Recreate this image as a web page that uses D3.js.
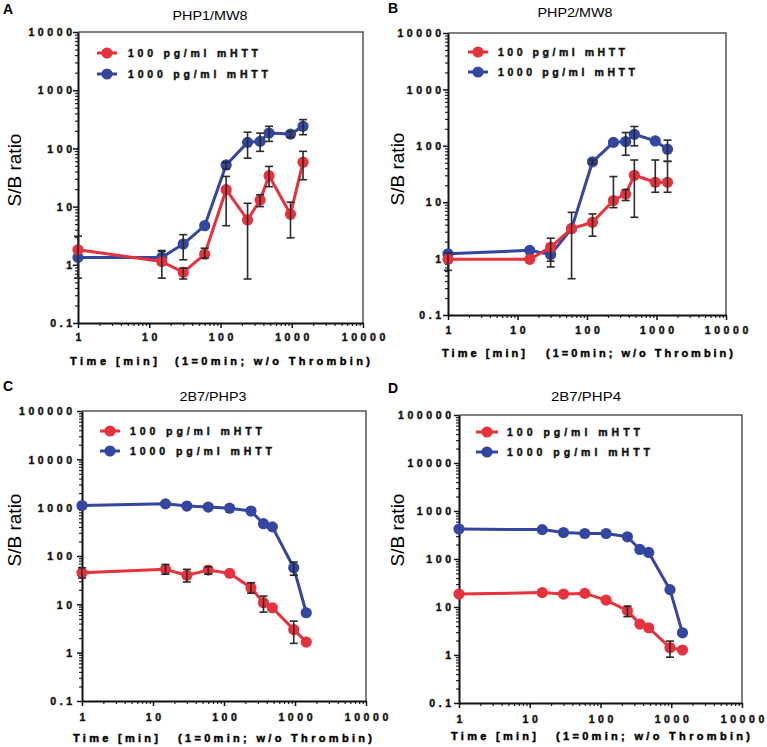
<!DOCTYPE html>
<html><head><meta charset="utf-8">
<script src="https://cdn.jsdelivr.net/npm/d3@7"></script>
<style>body{margin:0;background:#fff}svg{display:block}text{font-family:Arial,"Liberation Sans",sans-serif}</style>
</head><body><svg id="c" width="767" height="747"></svg>
<script>
// ---- data ----
const times = [1, 15, 30, 60, 120, 240, 360, 480, 960, 1440];
const seriesNames = ["100 pg/ml mHTT", "1000 pg/ml mHTT"];
const xTickLabels = ["1", "10", "100", "1000", "10000"];
const yTickLabelsAB = ["0.1", "1", "10", "100", "1000", "10000"];
const yTickLabelsCD = ["0.1", "1", "10", "100", "1000", "10000", "100000"];
const panelTitles = ["PHP1/MW8", "PHP2/MW8", "2B7/PHP3", "2B7/PHP4"];

const A_red    = [1.81, 1.14, 0.74, 1.52, 19.5, 5.9, 13, 34, 7.4, 58];
const A_red_hi = [3.1, 1.7, 0.88, 1.93, 33, 11.4, 16, 49, 11.9, 89];
const A_red_lo = [0.59, 0.59, 0.57, 1.3, 4.7, 0.57, 10, 22, 2.9, 29];
const A_blue    = [1.34, 1.34, 2.27, 4.7, 52, 127, 132, 184, 176, 240];
const A_blue_hi = [null, 1.76, 3.3, null, 58, 190, 183, 240, 195, 312];
const A_blue_lo = [null, 1.0, 1.22, null, 44, 68, 89, 132, 155, 172];

const B_red    = [0.97, 0.97, 1.6, 3.4, 4.4, 10.7, 14, 30, 22.6, 22.6];
const B_red_hi = [1.26, null, 2.3, 6.6, 6.2, 28.5, 16.7, 56, 56, 53];
const B_red_lo = [0.62, null, 0.71, 0.44, 2.5, 8, 10.7, 5.4, 15, 15];
const B_blue    = [1.22, 1.4, 1.18, 3.4, 52, 115, 119, 160, 122, 87];
const B_blue_hi = [null, null, 1.6, null, 56, null, 172, 220, null, 126];
const B_blue_lo = [null, null, 0.9, null, 48, null, 68, 100, null, 53];

const C_red    = [45, 53, 40, 51, 44, 22, 10.8, 8.5, 3.0, 1.66];
const C_red_hi = [57, 67, 53, 60, null, 28, 14.8, null, 4.5, null];
const C_red_lo = [35, 42, 29, 42, null, 17, 6.9, null, 1.56, null];
const C_blue    = [1110, 1200, 1080, 1030, 975, 850, 466, 400, 57, 6.7];
const C_blue_hi = [null, null, null, null, null, null, null, null, 75, null];
const C_blue_lo = [null, null, null, null, null, null, null, null, 40, null];

const D_red    = [18.6, 20, 18.6, 19.2, 13.9, 8.4, 4.4, 3.7, 1.42, 1.27];
const D_red_hi = [null, null, null, null, null, 10.4, null, null, 1.95, null];
const D_red_lo = [null, null, null, null, null, 6.3, null, null, 0.9, null];
const D_blue    = [420, 410, 356, 340, 340, 290, 158, 137, 23, 2.9];
const D_blue_hi = [null, null, null, null, null, null, null, null, null, null];
const D_blue_lo = [null, null, null, null, null, null, null, null, null, null];

// ---- layout ----
const RED = "#e5323c", BLUE = "#34469f", ERR = "#2a2a2a";
const panels = [
  {letter:"A", title:panelTitles[0], yt:yTickLabelsAB, L:78, R:363, T:32, B:323,
   red:[A_red,A_red_hi,A_red_lo], blue:[A_blue,A_blue_hi,A_blue_lo],
   lx:3, ly:14, tx:210, ty:20, tw:75, ylx:21, yly:170, ytr:72, xty:341, xtitleY:365,
   t1:[70,157], t2:[175,370], leg:{x1:97, x2:117, tx:128, y1:53, y2:74, w1:130, w2:140}},
  {letter:"B", title:panelTitles[1], yt:yTickLabelsAB, L:448, R:726, T:33, B:315,
   red:[B_red,B_red_hi,B_red_lo], blue:[B_blue,B_blue_hi,B_blue_lo],
   lx:388, ly:13, tx:575, ty:17, tw:75, ylx:404, yly:169, ytr:441, xty:334, xtitleY:357,
   t1:[442,525], t2:[546,733], leg:{x1:468, x2:488, tx:498, y1:52, y2:72, w1:127, w2:137}},
  {letter:"C", title:panelTitles[2], yt:yTickLabelsCD, L:82, R:366, T:411, B:701,
   red:[C_red,C_red_hi,C_red_lo], blue:[C_blue,C_blue_hi,C_blue_lo],
   lx:3, ly:391, tx:213, ty:401, tw:67, ylx:21, yly:530, ytr:72, xty:721, xtitleY:742,
   t1:[73,158], t2:[178,372], leg:{x1:100, x2:120, tx:130, y1:431, y2:451, w1:132, w2:142}},
  {letter:"D", title:panelTitles[3], yt:yTickLabelsCD, L:459, R:742, T:415, B:703,
   red:[D_red,D_red_hi,D_red_lo], blue:[D_blue,D_blue_hi,D_blue_lo],
   lx:388, ly:393, tx:586, ty:401, tw:70, ylx:404, yly:530, ytr:451, xty:723, xtitleY:740,
   t1:[451,536], t2:[556,750], leg:{x1:476, x2:498, tx:507, y1:432, y2:452, w1:133, w2:143}}
];

const svg = d3.select("#c");
const TICKFONT = "10.5px";
const heavy = sel => sel.attr("stroke","#111").attr("stroke-width",0.45).attr("paint-order","stroke");

panels.forEach(p => {
  const yVals = p.yt.map(Number);
  const xVals = xTickLabels.map(Number);
  const x = d3.scaleLog().domain([xVals[0], xVals[xVals.length-1]]).range([p.L, p.R]);
  const y = d3.scaleLog().domain([yVals[0], yVals[yVals.length-1]]).range([p.B, p.T]);
  const g = svg.append("g");

  // frame (top/right)
  g.append("path").attr("d", `M${p.L},${p.T}H${p.R}V${p.B}`)
    .attr("fill","none").attr("stroke","#555").attr("stroke-width",1.5);

  // minor ticks
  const isMajor = v => Math.abs(Math.log10(v) - Math.round(Math.log10(v))) < 1e-9;
  const yMinor = y.ticks().filter(v => !isMajor(v));
  const xMinor = x.ticks().filter(v => !isMajor(v));
  const yMinAx = g.append("g").attr("transform",`translate(${p.L},0)`)
    .call(d3.axisLeft(y).tickValues(yMinor).tickSize(3).tickFormat(""));
  yMinAx.select(".domain").remove();
  const xMinAx = g.append("g").attr("transform",`translate(0,${p.B})`)
    .call(d3.axisBottom(x).tickValues(xMinor).tickSize(3).tickFormat(""));
  xMinAx.select(".domain").remove();
  g.selectAll(".tick line").attr("stroke","#222").attr("stroke-width",1.2);

  // major axes
  const yAx = g.append("g").attr("transform",`translate(${p.L},0)`)
    .call(d3.axisLeft(y).tickValues(yVals).tickSize(5).tickSizeOuter(0).tickFormat((d,i)=>p.yt[i]));
  const xAx = g.append("g").attr("transform",`translate(0,${p.B})`)
    .call(d3.axisBottom(x).tickValues(xVals).tickSize(5).tickSizeOuter(0).tickFormat((d,i)=>xTickLabels[i]));
  [yAx, xAx].forEach(a => {
    a.select(".domain").attr("stroke","#111").attr("stroke-width",2);
    a.selectAll(".tick line").attr("stroke","#111").attr("stroke-width",1.5);
    heavy(a.selectAll("text").attr("font-size",TICKFONT).attr("font-weight","bold")
      .attr("letter-spacing","3.6px").attr("fill","#111")
      .style("font-family","Arial, 'Liberation Sans', sans-serif"));
  });
  yAx.selectAll("text").attr("x", p.ytr - p.L + 3.6).attr("dy","0.36em");
  xAx.selectAll("text").attr("y", p.xty - p.B).attr("dy",0).attr("dx","1.8px");

  // series
  const line = d3.line().x(d => x(d.t)).y(d => y(d.v)).curve(d3.curveLinear);
  [[p.blue, BLUE], [p.red, RED]].forEach(([s, col]) => {
    const pts = times.map((t,i) => ({t, v:s[0][i], hi:s[1][i], lo:s[2][i]}));
    g.append("path").datum(pts).attr("d", line).attr("fill","none")
      .attr("stroke", col).attr("stroke-width", 3).attr("stroke-linejoin","round");
    g.selectAll(null).data(pts).enter().append("circle")
      .attr("cx", d => x(d.t)).attr("cy", d => y(d.v)).attr("r", 5.6).attr("fill", col);
    const eb = pts.filter(d => d.hi != null);
    const eg = g.append("g").attr("stroke", ERR).attr("stroke-width", 1.6);
    eb.forEach(d => {
      const cx = x(d.t), yh = y(d.hi), yl = y(d.lo);
      eg.append("line").attr("x1",cx).attr("x2",cx).attr("y1",yh).attr("y2",yl);
      eg.append("line").attr("x1",cx-4).attr("x2",cx+4).attr("y1",yh).attr("y2",yh);
      eg.append("line").attr("x1",cx-4).attr("x2",cx+4).attr("y1",yl).attr("y2",yl);
    });
  });

  // legend
  const lg = p.leg;
  [[RED, lg.y1, lg.w1, seriesNames[0]], [BLUE, lg.y2, lg.w2, seriesNames[1]]].forEach(([col, yy, w, name]) => {
    g.append("line").attr("x1",lg.x1).attr("x2",lg.x2).attr("y1",yy).attr("y2",yy)
      .attr("stroke",col).attr("stroke-width",3);
    g.append("circle").attr("cx",(lg.x1+lg.x2)/2).attr("cy",yy).attr("r",5.6).attr("fill",col);
    heavy(g.append("text").attr("x",lg.tx).attr("y",yy).attr("dy","0.36em")
      .attr("font-size",TICKFONT).attr("font-weight","bold").attr("fill","#111")
      .attr("textLength", w).attr("lengthAdjust","spacing").text(name));
  });

  // titles and labels
  g.append("text").attr("x",p.lx).attr("y",p.ly).attr("font-size","14px").attr("font-weight","bold").text(p.letter);
  g.append("text").attr("x",p.tx).attr("y",p.ty).attr("text-anchor","middle").attr("font-size","12.5px")
    .attr("textLength",p.tw).attr("lengthAdjust","spacingAndGlyphs").text(p.title);
  g.append("text").attr("transform",`translate(${p.ylx},${p.yly}) rotate(-90)`)
    .attr("text-anchor","middle").attr("font-size","19px").text("S/B ratio");
  heavy(g.append("text").attr("x",p.t1[0]).attr("y",p.xtitleY).attr("font-size","11px").attr("font-weight","bold")
    .attr("textLength",p.t1[1]-p.t1[0]).attr("lengthAdjust","spacing").text("Time [min]"));
  heavy(g.append("text").attr("x",p.t2[0]).attr("y",p.xtitleY).attr("font-size","11px").attr("font-weight","bold")
    .attr("textLength",p.t2[1]-p.t2[0]).attr("lengthAdjust","spacing").text("(1=0min; w/o Thrombin)"));
});
</script></body></html>
